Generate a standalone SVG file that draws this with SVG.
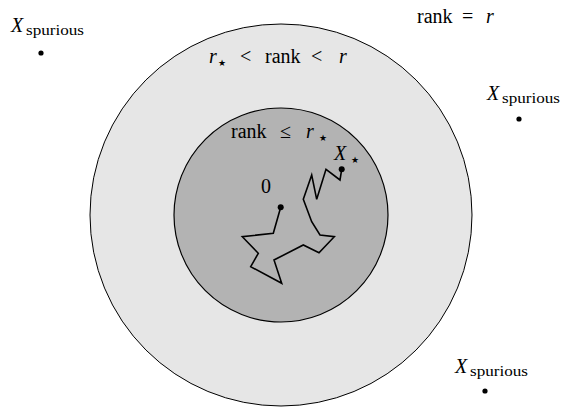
<svg xmlns="http://www.w3.org/2000/svg" width="570" height="411" viewBox="0 0 570 411" font-family="'Liberation Serif', 'DejaVu Serif', serif">
<style>
text{font-family:'Liberation Serif','DejaVu Serif',serif;font-size:20px;fill:#000}
text.i{font-style:italic}
text.sub{font-size:15px}
text.star{font-family:'DejaVu Sans',sans-serif;font-size:9px}
.dot{fill:#000}
</style>
<rect width="570" height="411" fill="#fff"/>
<g id="outer"><circle cx="281" cy="215" r="191" fill="#e6e6e6" stroke="#000" stroke-width="1"/></g>
<g id="inner"><circle cx="281" cy="215" r="107" fill="#b3b3b3" stroke="#000" stroke-width="1.2"/></g>
<g id="connectors">
<polyline fill="none" stroke="#000" stroke-width="1.6" stroke-linejoin="miter" points="280.7,207.3 273.3,233.3 242.3,236.7 258.3,253.3 250.7,266.7 281.7,283.3 274,260 303.3,245 319,252.7 334.3,236.7 320,235 311.7,221.7 303.3,199.3 311.7,175 316.7,199.3 326,169.3 340,180 341.7,169.3"/>
</g>
<g id="origin"><circle class="dot" cx="280.7" cy="207.3" r="3"/><text x="261" y="193">0</text></g>
<g id="xstar"><circle class="dot" cx="341.7" cy="169.3" r="3"/><text x="334" y="160" class="i">X</text><text x="351" y="163" class="star">★</text></g>
<g id="label-inner"><text x="231" y="138">rank</text><text x="280" y="138">≤</text><text x="306" y="138" class="i">r</text><text x="319" y="141" class="star">★</text></g>
<g id="label-middle"><text x="209" y="63" class="i">r</text><text x="218" y="66" class="star">★</text><text x="240" y="63">&lt;</text><text x="265" y="63">rank</text><text x="311" y="63">&lt;</text><text x="339" y="63" class="i">r</text></g>
<g id="label-outer"><text x="417" y="23">rank</text><text x="462" y="23">=</text><text x="486" y="23" class="i">r</text></g>
<g id="spur1"><text x="11" y="32" class="i">X</text><text x="26" y="35" class="sub" textLength="58" lengthAdjust="spacingAndGlyphs">spurious</text><circle class="dot" cx="41" cy="53" r="2.6"/></g>
<g id="spur2"><text x="487" y="100" class="i">X</text><text x="502" y="103" class="sub" textLength="58" lengthAdjust="spacingAndGlyphs">spurious</text><circle class="dot" cx="519" cy="119" r="2.6"/></g>
<g id="spur3"><text x="455" y="373" class="i">X</text><text x="470" y="376" class="sub" textLength="58" lengthAdjust="spacingAndGlyphs">spurious</text><circle class="dot" cx="485" cy="391" r="2.6"/></g>
</svg>
